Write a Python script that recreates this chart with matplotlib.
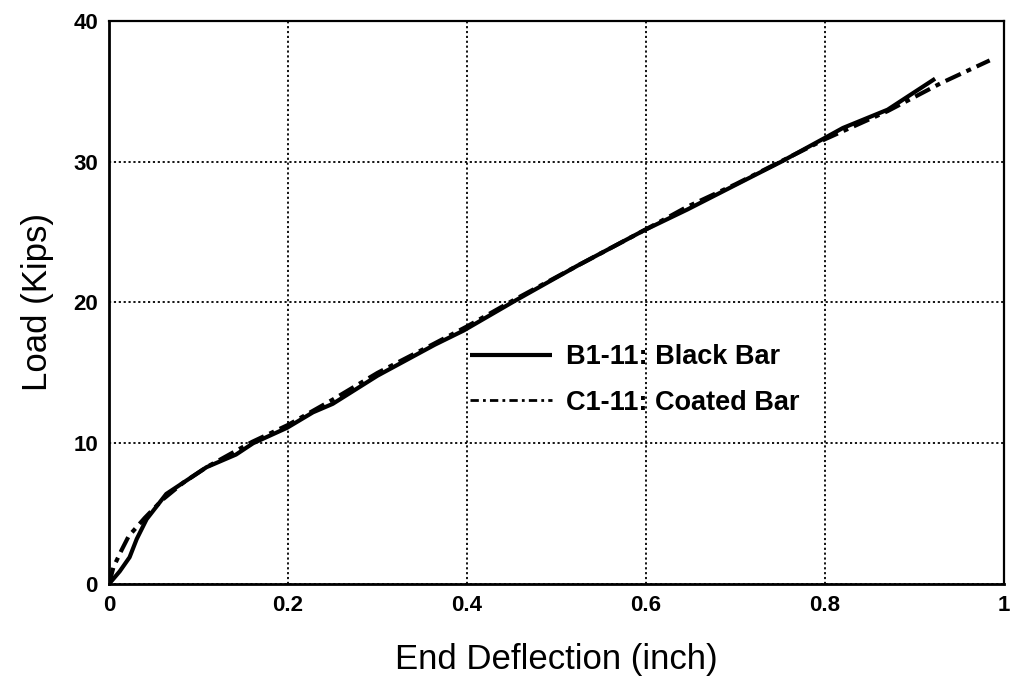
import matplotlib.pyplot as plt

plt.rcParams['font.family'] = ['Liberation Sans', 'DejaVu Sans']

# B1-11: Black Bar (solid)
b_x = [0, 0.012, 0.023, 0.031, 0.042, 0.053, 0.064, 0.083, 0.109, 0.142, 0.161,
       0.199, 0.228, 0.25, 0.3, 0.364, 0.396, 0.453, 0.523, 0.597, 0.646, 0.683,
       0.72, 0.751, 0.8, 0.82, 0.87, 0.923]
b_y = [0, 0.9, 1.9, 3.2, 4.6, 5.5, 6.4, 7.2, 8.3, 9.2, 10.0,
       11.1, 12.2, 12.8, 14.8, 17.0, 18.0, 20.1, 22.6, 25.1, 26.6, 27.8,
       29.0, 30.0, 31.7, 32.4, 33.7, 35.9]

# C1-11: Coated Bar (dash-dot)
c_x = [0, 0.005, 0.014, 0.022, 0.04, 0.06, 0.083, 0.109, 0.16, 0.2, 0.25, 0.3,
       0.364, 0.4, 0.453, 0.523, 0.6, 0.646, 0.7, 0.75, 0.8, 0.87, 0.93, 0.984]
c_y = [0, 1.2, 2.4, 3.4, 4.7, 6.0, 7.2, 8.3, 10.1, 11.3, 13.1, 15.0,
       17.1, 18.3, 20.2, 22.6, 25.2, 26.8, 28.4, 30.0, 31.6, 33.6, 35.6, 37.2]

x_ticks = [0, 0.2, 0.4, 0.6, 0.8, 1]
x_labels = ['0', '0.2', '0.4', '0.6', '0.8', '1']
y_ticks = [0, 10, 20, 30, 40]

fig = plt.figure(figsize=(10.12, 6.79), dpi=100)
ax = fig.add_axes([109/1012, 95/679, 895/1012, 563/679])

ax.plot(b_x, b_y, color='black', linewidth=3.0, solid_capstyle='butt',
        label='B1-11: Black Bar')
ax.plot(c_x, c_y, color='black', linewidth=3.0, dashes=(4, 1.5, 1.2, 1.5),
        label='C1-11: Coated Bar')

ax.set_xlim(0, 1)
ax.set_ylim(0, 40)
ax.set_xticks(x_ticks)
ax.set_xticklabels(x_labels)
ax.set_yticks(y_ticks)
ax.tick_params(length=0, labelsize=16, pad=8)
for lab in ax.get_xticklabels() + ax.get_yticklabels():
    lab.set_fontweight('bold')

ax.grid(True, color='black', linestyle=(0, (1.2, 1.5)), linewidth=1.3)

for side in ['left', 'bottom']:
    ax.spines[side].set_linewidth(2.0)
for side in ['top', 'right']:
    ax.spines[side].set_linewidth(1.6)

ax.set_xlabel('End Deflection (inch)', fontsize=25, labelpad=19)
ax.set_ylabel('Load (Kips)', fontsize=25, labelpad=14)

leg = ax.legend(loc='upper left', bbox_to_anchor=(0.376, 0.469), frameon=False,
                prop={'size': 19.5, 'weight': 'bold'}, handlelength=3.05,
                handletextpad=0.5, labelspacing=0.72)
leg.get_lines()[1].set_linewidth(2.0)
leg.get_lines()[1].set_dashes((3, 1.5, 1, 1.5))

fig.savefig('out.png', dpi=100)
